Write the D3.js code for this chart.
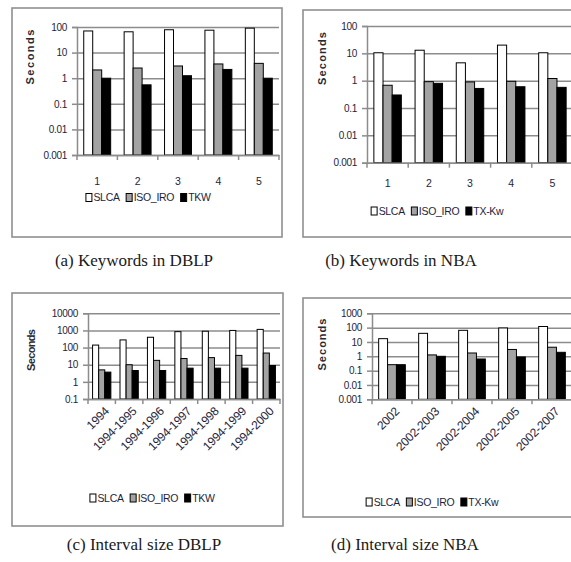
<!DOCTYPE html>
<html>
<head>
<meta charset="utf-8">
<script src="https://cdn.jsdelivr.net/npm/d3@7"></script>
<style>
  html, body { margin: 0; padding: 0; background: #fff; }
  svg { display: block; }
  .tick text { font-family: "Liberation Sans", Arial, sans-serif; fill: #1e1e3c; }
</style>
</head>
<body>
<svg id="chart" width="571" height="562"></svg>
<script>
// ---- data ----
const kwCats = ["1", "2", "3", "4", "5"];
const dblpKwSLCA = [70, 65, 78, 75, 90];
const dblpKwISO = [2.1, 2.5, 3.0, 3.6, 3.8];
const dblpKwTKW = [1.0, 0.55, 1.25, 2.2, 1.0];

const nbaKwSLCA = [10.5, 13, 4.5, 20, 10.5];
const nbaKwISO = [0.68, 0.92, 0.9, 0.95, 1.2];
const nbaKwTX = [0.3, 0.8, 0.52, 0.6, 0.57];

const dblpIntCats = ["1994", "1994-1995", "1994-1996", "1994-1997", "1994-1998", "1994-1999", "1994-2000"];
const dblpIntSLCA = [140, 280, 400, 850, 900, 1000, 1150];
const dblpIntISO = [5, 10, 18, 23, 26, 35, 48];
const dblpIntTKW = [3.7, 4.6, 4.6, 6.3, 6.3, 6.3, 9];

const nbaIntCats = ["2002", "2002-2003", "2002-2004", "2002-2005", "2002-2007"];
const nbaIntSLCA = [17, 40, 65, 95, 120];
const nbaIntISO = [0.26, 1.25, 1.7, 3, 4.3];
const nbaIntTX = [0.26, 1.0, 0.65, 0.9, 1.9];

const ticksA = [0.001, 0.01, 0.1, 1, 10, 100];
const ticksC = [0.1, 1, 10, 100, 1000, 10000];
const ticksD = [0.001, 0.01, 0.1, 1, 10, 100, 1000];

const namesTKW = ["SLCA", "ISO_IRO", "TKW"];
const namesTX = ["SLCA", "ISO_IRO", "TX-Kw"];
const fills = ["#ffffff", "#a3a3a3", "#000000"];

const captions = ["(a) Keywords in DBLP", "(b) Keywords in NBA", "(c) Interval size DBLP", "(d) Interval size NBA"];

// ---- layout of the four panels ----
const panels = [
  { cats: kwCats, series: [dblpKwSLCA, dblpKwISO, dblpKwTKW], names: namesTKW, ticks: ticksA,
    frame: [12, 8, 282, 237], x0: 77, x1: 279, yTop: 27, yBot: 155, rotate: false, catPad: 23,
    legY: 197.5, legCX: 148, labX: 30, labY: 57, labLen: 55, capX: 134, capY: 266 },
  { cats: kwCats, series: [nbaKwSLCA, nbaKwISO, nbaKwTX], names: namesTX, ticks: ticksA,
    frame: [303, 10, 580, 237], x0: 367, x1: 573, yTop: 26, yBot: 162.7, rotate: false, catPad: 17,
    legY: 211, legCX: 437, labX: 322, labY: 58.5, labLen: 53, capX: 401, capY: 266 },
  { cats: dblpIntCats, series: [dblpIntSLCA, dblpIntISO, dblpIntTKW], names: namesTKW, ticks: ticksC,
    frame: [12, 293, 283, 526], x0: 88, x1: 280, yTop: 313.3, yBot: 399, rotate: true,
    legY: 498, legCX: 152, labX: 31, labY: 350, labLen: 42, capX: 144, capY: 550 },
  { cats: nbaIntCats, series: [nbaIntSLCA, nbaIntISO, nbaIntTX], names: namesTX, ticks: ticksD,
    frame: [303, 298, 580, 517], x0: 372, x1: 572, yTop: 313.3, yBot: 399.3, rotate: true,
    legY: 502, legCX: 432, labX: 322, labY: 344.5, labLen: 52, capX: 405, capY: 550 }
];

const svg = d3.select("#chart");
const sans = '"Liberation Sans", Arial, sans-serif';

panels.forEach((p, pi) => {
  const g = svg.append("g");
  const [fx0, fy0, fx1, fy1] = p.frame;

  // outer frame
  g.append("rect")
    .attr("x", fx0).attr("y", fy0)
    .attr("width", fx1 - fx0).attr("height", fy1 - fy0)
    .attr("fill", "none").attr("stroke", "#8f8f8f").attr("stroke-width", 1.6);

  const y = d3.scaleLog()
    .domain([p.ticks[0], p.ticks[p.ticks.length - 1]])
    .range([p.yBot, p.yTop]);
  const x = d3.scaleBand().domain(p.cats).range([p.x0, p.x1]).padding(0);
  const xs = d3.scaleBand().domain(d3.range(3)).range([0, x.bandwidth()])
    .paddingInner(0).paddingOuter(0.75);

  // gridlines
  const grid = g.append("g")
    .attr("transform", `translate(${p.x0},0)`)
    .call(d3.axisLeft(y).tickValues(p.ticks).tickSize(-(p.x1 - p.x0)).tickFormat(""));
  grid.select(".domain").remove();
  grid.selectAll(".tick line").attr("stroke", "#8c8c8c").attr("stroke-width", 1.5);

  // y axis with labels
  const ya = g.append("g")
    .attr("transform", `translate(${p.x0},0)`)
    .call(d3.axisLeft(y).tickValues(p.ticks).tickSize(5).tickPadding(5).tickFormat(d => String(d)));
  ya.select(".domain").attr("stroke", "#8c8c8c").attr("stroke-width", 1.5);
  ya.selectAll(".tick line").attr("stroke", "#8c8c8c").attr("stroke-width", 1.5);
  ya.selectAll(".tick text").attr("font-size", 10).attr("letter-spacing", -0.3);

  // bars
  p.series.forEach((vals, si) => {
    g.append("g").selectAll("rect")
      .data(vals)
      .join("rect")
      .attr("x", (d, i) => x(p.cats[i]) + xs(si))
      .attr("y", d => y(d))
      .attr("width", xs.bandwidth())
      .attr("height", d => p.yBot - y(d))
      .attr("fill", fills[si])
      .attr("stroke", "#000")
      .attr("stroke-width", 1);
  });

  // x axis
  const xa = g.append("g")
    .attr("transform", `translate(0,${p.yBot})`)
    .call(d3.axisBottom(x).tickSize(0).tickPadding(p.rotate ? 9 : p.catPad));
  xa.select(".domain").attr("stroke", "#8c8c8c").attr("stroke-width", 1.5);
  xa.selectAll(".tick text").attr("font-size", 10.5);
  if (p.rotate) {
    xa.selectAll(".tick text")
      .attr("font-size", 12)
      .attr("letter-spacing", -0.2)
      .attr("text-anchor", "end")
      .attr("dy", "0.35em")
      .attr("transform", "translate(1,0) rotate(-45)")
      .attr("x", -4).attr("y", 10);
  }
  // boundary ticks
  g.append("g").selectAll("line")
    .data(p.cats.concat(["__end"]))
    .join("line")
    .attr("x1", d => d === "__end" ? p.x1 : x(d))
    .attr("x2", d => d === "__end" ? p.x1 : x(d))
    .attr("y1", p.yBot).attr("y2", p.yBot + 5)
    .attr("stroke", "#8c8c8c").attr("stroke-width", 1.5);

  // y label
  g.append("text")
    .attr("transform", `translate(${p.labX},${p.labY}) rotate(-90)`)
    .attr("text-anchor", "middle")
    .attr("dy", "0.35em")
    .attr("font-family", sans)
    .attr("font-weight", "bold")
    .attr("font-size", 11)
    .attr("fill", "#2c2a30")
    .attr("textLength", p.labLen)
    .attr("lengthAdjust", "spacing")
    .text("Seconds");

  // legend
  const leg = g.append("g");
  let cx = 0;
  p.names.forEach((n, si) => {
    const it = leg.append("g").attr("transform", `translate(${cx},0)`);
    it.append("rect").attr("x", 0.5).attr("y", -4).attr("width", 6).attr("height", 8)
      .attr("fill", fills[si]).attr("stroke", "#000").attr("stroke-width", 1);
    const t = it.append("text").attr("x", 8).attr("dy", "0.36em")
      .attr("font-family", sans).attr("font-size", 10.5).attr("letter-spacing", -0.3)
      .attr("fill", "#1e1e3c").text(n);
    const w = t.node().getComputedTextLength();
    cx += 8 + w + 6;
  });
  const legW = cx - 6;
  leg.attr("transform", `translate(${p.legCX - legW / 2},${p.legY})`);

  // caption
  svg.append("text")
    .attr("x", p.capX).attr("y", p.capY)
    .attr("text-anchor", "middle")
    .attr("font-family", "'Liberation Serif', 'Times New Roman', serif")
    .attr("font-size", 17)
    .attr("fill", "#1a1a1a")
    .text(captions[pi]);
});
</script>
</body>
</html>
